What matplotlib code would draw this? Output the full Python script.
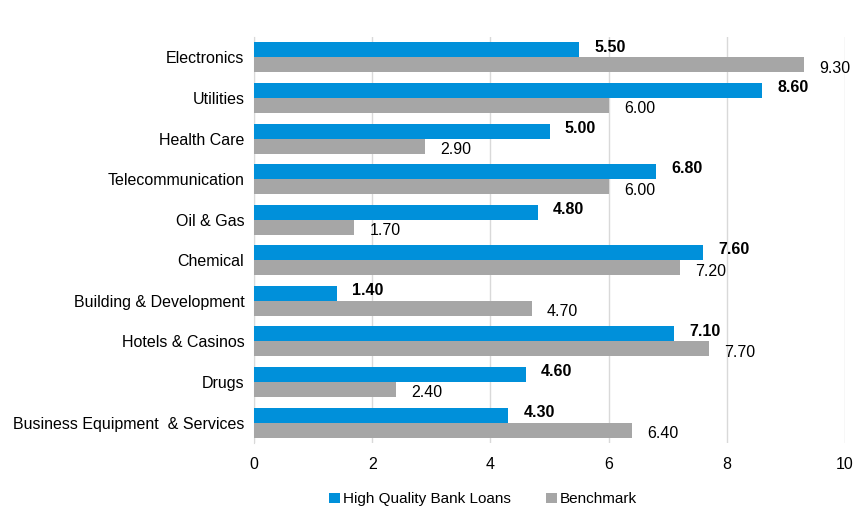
import matplotlib.pyplot as plt
import numpy as np

plt.rcParams['font.family'] = ['Liberation Sans', 'DejaVu Sans']

# data (top to bottom as in the chart)
sectors = ['Electronics', 'Utilities', 'Health Care', 'Telecommunication', 'Oil & Gas',
           'Chemical', 'Building & Development', 'Hotels & Casinos', 'Drugs',
           'Business Equipment  & Services']
hq_loans = [5.5, 8.6, 5.0, 6.8, 4.8, 7.6, 1.4, 7.1, 4.6, 4.3]
benchmark = [9.3, 6.0, 2.9, 6.0, 1.7, 7.2, 4.7, 7.7, 2.4, 6.4]

blue = '#0090DA'
grey = '#A6A6A6'

fig = plt.figure(figsize=(8.64, 5.09), dpi=100)
ax = fig.add_axes([0.294, 0.130, 0.684, 0.797])

y = np.arange(len(sectors))[::-1]
h = 0.37
ax.barh(y + h / 2, hq_loans, height=h, color=blue, label='High Quality Bank Loans', zorder=3)
ax.barh(y - h / 2, benchmark, height=h, color=grey, label='Benchmark', zorder=3)

# value labels
for yi, v in zip(y, hq_loans):
    ax.annotate(f'{v:.2f}', (v, yi + h / 2), xytext=(11, 2), textcoords='offset points',
                fontsize=11.5, fontweight='bold', va='center', ha='left')
for yi, v in zip(y, benchmark):
    ax.annotate(f'{v:.2f}', (v, yi - h / 2), xytext=(11, -2.5), textcoords='offset points',
                fontsize=11.5, va='center', ha='left')

ax.set_xlim(0, 10)
ax.set_ylim(-0.5, 9.5)
ax.set_xticks(range(0, 11, 2))
ax.set_yticks(y)
ax.set_yticklabels(sectors, fontsize=11.5)
ax.tick_params(axis='x', labelsize=11.5, length=0, pad=10)
ax.tick_params(axis='y', length=0, pad=7)
ax.grid(axis='x', color='#D9D9D9', linewidth=1, zorder=0)
for s in ['top', 'right', 'bottom']:
    ax.spines[s].set_visible(False)
ax.spines['left'].set_color('#D9D9D9')

fig.legend(loc='lower center', bbox_to_anchor=(0.559, -0.022), ncol=2, frameon=False,
           fontsize=11, handlelength=0.7, handleheight=0.7, handletextpad=0.2,
           columnspacing=2.3)

plt.savefig('out.png', dpi=100)
